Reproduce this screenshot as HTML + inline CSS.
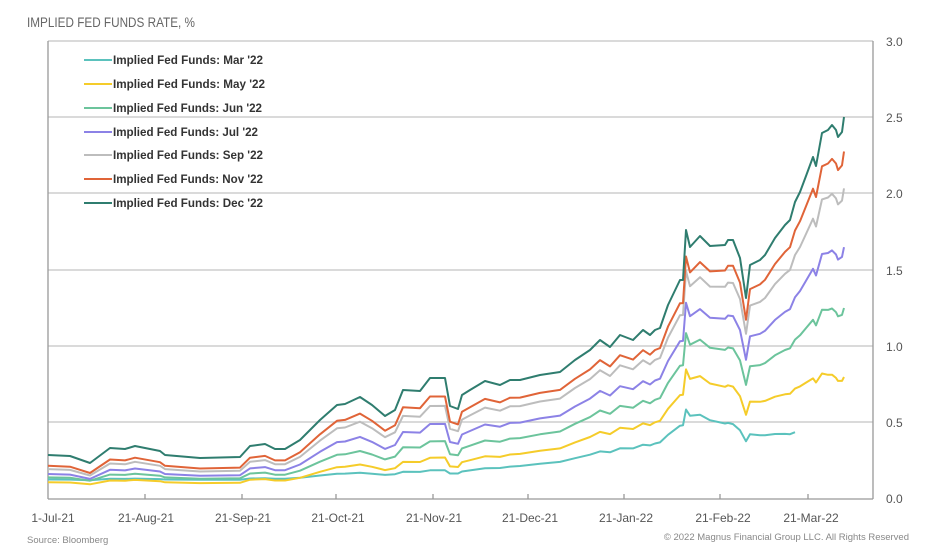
<!DOCTYPE html>
<html><head><meta charset="utf-8"><style>
body{margin:0;background:#fff;width:928px;height:555px;overflow:hidden;font-family:"Liberation Sans",sans-serif}
svg{position:absolute;left:0;top:0}
</style></head><body>
<svg id="s" width="928" height="555" xmlns="http://www.w3.org/2000/svg">
<text x="27" y="27" font-size="13.5" fill="#666" textLength="168" lengthAdjust="spacingAndGlyphs">IMPLIED FED FUNDS RATE, %</text>
<g stroke="#c4c4c4" stroke-width="1.3">
<line x1="48" y1="41" x2="873" y2="41"/>
<line x1="48" y1="117" x2="873" y2="117"/>
<line x1="48" y1="193" x2="873" y2="193"/>
<line x1="48" y1="270" x2="873" y2="270"/>
<line x1="48" y1="346" x2="873" y2="346"/>
<line x1="48" y1="422" x2="873" y2="422"/>
</g>
<g stroke="#999" stroke-width="1.3">
<line x1="48" y1="41" x2="48" y2="499"/>
<line x1="873" y1="41" x2="873" y2="499"/>
<line x1="48" y1="499" x2="873" y2="499"/>
<line x1="145" y1="494" x2="145" y2="499"/><line x1="242" y1="494" x2="242" y2="499"/>
<line x1="336" y1="494" x2="336" y2="499"/><line x1="433" y1="494" x2="433" y2="499"/>
<line x1="528" y1="494" x2="528" y2="499"/><line x1="624" y1="494" x2="624" y2="499"/>
<line x1="720" y1="494" x2="720" y2="499"/><line x1="808" y1="494" x2="808" y2="499"/>
</g>
<g font-size="12" fill="#555">
<text x="886" y="46">3.0</text><text x="886" y="122">2.5</text><text x="886" y="198">2.0</text>
<text x="886" y="275">1.5</text><text x="886" y="351">1.0</text><text x="886" y="427">0.5</text><text x="886" y="503">0.0</text>
</g>
<g font-size="12" fill="#555" text-anchor="middle">
<text x="53" y="522">1-Jul-21</text><text x="146" y="522">21-Aug-21</text><text x="243" y="522">21-Sep-21</text>
<text x="338" y="522">21-Oct-21</text><text x="434" y="522">21-Nov-21</text><text x="530" y="522">21-Dec-21</text>
<text x="626" y="522">21-Jan-22</text><text x="723" y="522">21-Feb-22</text><text x="811" y="522">21-Mar-22</text>
</g>
<text x="27" y="543" font-size="9.5" fill="#888">Source: Bloomberg</text>
<text x="909" y="540" font-size="9.5" fill="#888" text-anchor="end">© 2022 Magnus Financial Group LLC. All Rights Reserved</text>
<g id="series" fill="none" stroke-width="2" stroke-linejoin="round"></g>
<g font-size="12" font-weight="bold" fill="#333" stroke-width="2">
<line x1="84" y1="60" x2="112" y2="60" stroke="#5bc2bd"/><text x="113" y="64" textLength="150" lengthAdjust="spacingAndGlyphs">Implied Fed Funds: Mar '22</text>
<line x1="84" y1="84" x2="112" y2="84" stroke="#f5cc2a"/><text x="113" y="88" textLength="152" lengthAdjust="spacingAndGlyphs">Implied Fed Funds: May '22</text>
<line x1="84" y1="108" x2="112" y2="108" stroke="#6cc49c"/><text x="113" y="112" textLength="149" lengthAdjust="spacingAndGlyphs">Implied Fed Funds: Jun '22</text>
<line x1="84" y1="132" x2="112" y2="132" stroke="#8c82e6"/><text x="113" y="136" textLength="145" lengthAdjust="spacingAndGlyphs">Implied Fed Funds: Jul '22</text>
<line x1="84" y1="155" x2="112" y2="155" stroke="#bdbdbd"/><text x="113" y="159" textLength="150" lengthAdjust="spacingAndGlyphs">Implied Fed Funds: Sep '22</text>
<line x1="84" y1="179" x2="112" y2="179" stroke="#e06438"/><text x="113" y="183" textLength="150" lengthAdjust="spacingAndGlyphs">Implied Fed Funds: Nov '22</text>
<line x1="84" y1="203" x2="112" y2="203" stroke="#2f7d6f"/><text x="113" y="207" textLength="150" lengthAdjust="spacingAndGlyphs">Implied Fed Funds: Dec '22</text>
</g>
</svg>
<script>
var P=[[48,455],[70,456],[90,463],[110,448],[125,449],[135,446],[160,451],[165,455],[200,458],[240,457],[250,446],[265,444],[275,449],[285,449],[300,440],[320,420],[337,405],[345,404],[360,397],[372,405],[385,416],[395,410],[403,390],[420,391],[430,378],[445,378],[450,406],[458,409],[462,395],[470,390],[485,381],[500,385],[510,380],[520,380],[540,375],[560,372],[575,360],[590,350],[600,340],[610,347],[620,335],[633,340],[643,330],[650,335],[655,330],[660,328],[668,305],[680,280],[683,280],[686,230],[690,247],[700,236],[710,246],[725,245],[728,240],[733,240],[740,258],[746,298],[750,265],[760,260],[765,255],[775,238],[785,225],[790,220],[795,202],[800,192],[806,176],[813,157],[816,166],[822,133],[828,130],[832,125],[836,130],[838,137],[842,132],[844,117]];
var S=[
["#5bc2bd",0.12,[0.1,0.12,0.31,0.13],795],
["#f5cc2a",0.1,[0.25,0.32,0.5,0.31],845],
["#6cc49c",0.13,[0.4,0.47,0.64,0.5],845],
["#8c82e6",0.15,[0.6,0.65,0.76,0.67],845],
["#bdbdbd",0.18,[0.8,0.82,0.88,0.83],845],
["#e06438",0.2,[0.9,0.9,0.93,0.93],845],
["#2f7d6f",0.27,[1,1,1,1],845]];
var T=[0,0.5,0.8,1];
function f(a,t){for(var i=0;i<3;i++){if(t<=T[i+1]){var u=(t-T[i])/(T[i+1]-T[i]);return a[i]+(a[i+1]-a[i])*u;}}return a[3];}
var g=document.getElementById('series'),h='';
S.forEach(function(s){var pts=[];P.forEach(function(p){if(p[0]>s[3])return;var v=(498-p[1])/152.3;var t=(p[0]-48)/797;var r=s[1]+(v-0.27)*f(s[2],t);pts.push(p[0]+','+(498-r*152.3).toFixed(1));});h+='<polyline stroke="'+s[0]+'" points="'+pts.join(' ')+'"/>';});
g.innerHTML=h;
</script>
</body></html>
